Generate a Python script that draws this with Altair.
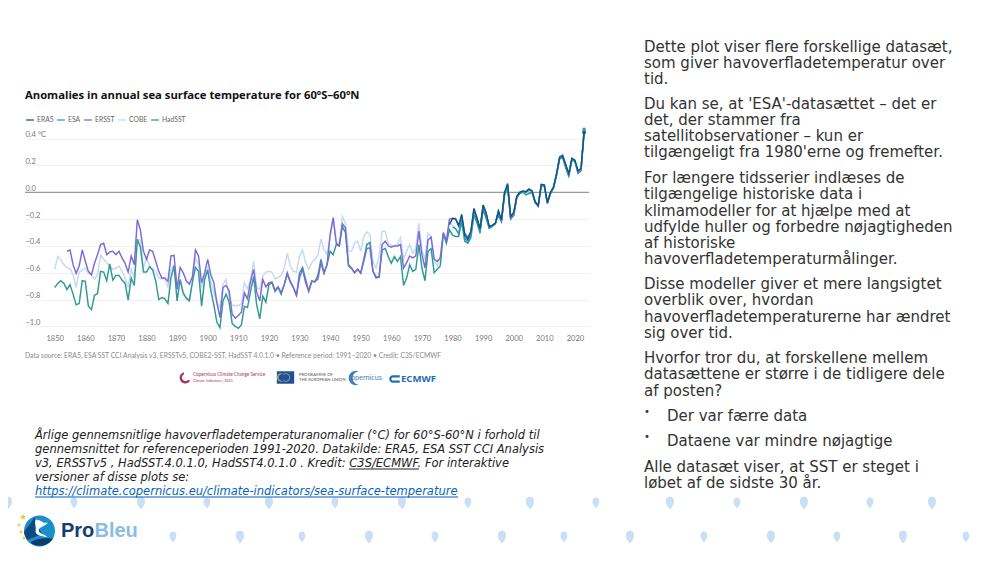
import altair as alt
import pandas as pd

# ---- Series ----
YEARS_ALL = list(range(1850, 2024))

HADSST = [-0.71,-0.68,-0.66,-0.68,-0.725,-0.69,-0.76,-0.84,-0.83,-0.66,
 -0.665,-0.85,-0.875,-0.77,-0.755,-0.59,-0.595,-0.66,-0.535,-0.655,
 -0.62,-0.62,-0.655,-0.68,-0.805,-0.64,-0.695,-0.35,-0.41,-0.595,
 -0.595,-0.555,-0.58,-0.66,-0.80,-0.785,-0.795,-0.83,-0.635,-0.55,
 -0.81,-0.65,-0.75,-0.79,-0.81,-0.67,-0.56,-0.59,-0.85,-0.65,
 -0.58,-0.73,-0.84,-0.97,-1.01,-0.81,-0.76,-0.82,-0.98,-1.00,
 -1.015,-0.99,-0.85,-0.86,-0.74,-0.63,-0.84,-0.945,-0.775,-0.82,
 -0.69,-0.675,-0.74,-0.71,-0.76,-0.69,-0.61,-0.67,-0.71,-0.77,
 -0.60,-0.56,-0.65,-0.74,-0.66,-0.67,-0.62,-0.50,-0.60,-0.54,
 -0.44,-0.465,-0.39,-0.40,-0.255,-0.30,-0.55,-0.57,-0.60,-0.575,
 -0.605,-0.50,-0.39,-0.375,-0.59,-0.64,-0.63,-0.43,-0.42,-0.48,
 -0.53,-0.48,-0.515,-0.48,-0.695,-0.64,-0.54,-0.59,-0.575,-0.39,
 -0.565,-0.66,-0.44,-0.42,-0.60,-0.575,-0.55,-0.305,-0.38,-0.28,
 -0.32,-0.33,-0.33,-0.22,-0.365,-0.38,-0.34,-0.17,-0.23,-0.305,
 -0.13,-0.195,-0.27,-0.255,-0.235,-0.17,-0.22,-0.02,0.04,-0.195,
 -0.17,-0.04,-0.01,0.0,-0.02,-0.01,0.0,-0.08,-0.10,0.05,
 0.05,-0.08,-0.01,0.03,0.13,0.25,0.26,0.19,0.13,0.24,
 0.23,0.16,0.17,0.47]

COBE = [-0.575,-0.48,-0.505,-0.54,-0.56,-0.57,-0.615,-0.71,-0.595,-0.58,
 -0.565,-0.605,-0.615,-0.65,-0.615,-0.47,-0.50,-0.525,-0.55,-0.575,
 -0.565,-0.55,-0.59,-0.64,-0.71,-0.575,-0.64,-0.355,-0.355,-0.565,
 -0.49,-0.55,-0.565,-0.59,-0.64,-0.645,-0.645,-0.705,-0.575,-0.54,
 -0.695,-0.665,-0.77,-0.785,-0.80,-0.675,-0.49,-0.54,-0.71,-0.63,
 -0.565,-0.665,-0.75,-0.825,-0.86,-0.69,-0.65,-0.775,-0.845,-0.845,
 -0.845,-0.83,-0.675,-0.72,-0.65,-0.515,-0.71,-0.725,-0.625,-0.595,
 -0.59,-0.595,-0.645,-0.635,-0.62,-0.565,-0.455,-0.55,-0.59,-0.595,
 -0.475,-0.43,-0.525,-0.575,-0.525,-0.50,-0.47,-0.35,-0.43,-0.465,
 -0.34,-0.185,-0.365,-0.39,-0.18,-0.23,-0.44,-0.44,-0.38,-0.365,
 -0.44,-0.33,-0.295,-0.315,-0.515,-0.565,-0.475,-0.29,-0.29,-0.38,
 -0.395,-0.40,-0.39,-0.34,-0.50,-0.44,-0.39,-0.455,-0.415,-0.23,
 -0.43,-0.50,-0.305,-0.33,-0.50,-0.55,-0.475,-0.315,-0.355,-0.23,
 -0.245,-0.27,-0.305,-0.195,-0.33,-0.355,-0.31,-0.13,-0.21,-0.28,
 -0.105,-0.165,-0.265,-0.25,-0.235,-0.15,-0.21,-0.01,0.055,-0.185,
 -0.16,-0.035,-0.005,0.005,-0.01,0.01,0.005,-0.075,-0.105,0.055,
 0.05,-0.08,-0.01,0.035,0.135,0.255,0.265,0.195,0.135,0.25,
 0.235,0.155,0.175,0.45]

ERSST_YEARS = list(range(1854, 2024))
ERSST = [-0.44,-0.43,-0.54,-0.605,-0.55,-0.43,
 -0.515,-0.59,-0.615,-0.53,-0.465,-0.39,-0.38,-0.465,-0.445,-0.44,
 -0.465,-0.44,-0.49,-0.53,-0.595,-0.475,-0.54,-0.205,-0.28,-0.44,
 -0.50,-0.43,-0.44,-0.515,-0.59,-0.64,-0.64,-0.665,-0.475,-0.47,
 -0.725,-0.56,-0.60,-0.66,-0.685,-0.63,-0.43,-0.475,-0.675,-0.60,
 -0.50,-0.615,-0.675,-0.825,-0.935,-0.71,-0.695,-0.735,-0.91,-0.94,
 -0.92,-0.895,-0.75,-0.795,-0.665,-0.575,-0.745,-0.81,-0.65,-0.705,
 -0.675,-0.67,-0.73,-0.705,-0.75,-0.69,-0.60,-0.665,-0.71,-0.77,
 -0.64,-0.575,-0.675,-0.735,-0.665,-0.665,-0.65,-0.525,-0.605,-0.54,
 -0.315,-0.19,-0.38,-0.40,-0.235,-0.265,-0.54,-0.565,-0.60,-0.575,
 -0.60,-0.515,-0.42,-0.415,-0.59,-0.63,-0.635,-0.39,-0.365,-0.40,
 -0.41,-0.40,-0.40,-0.39,-0.565,-0.525,-0.475,-0.49,-0.475,-0.29,
 -0.465,-0.565,-0.355,-0.335,-0.50,-0.515,-0.49,-0.30,-0.365,-0.20,
 -0.195,-0.195,-0.245,-0.18,-0.305,-0.335,-0.30,-0.125,-0.19,-0.27,
 -0.095,-0.16,-0.26,-0.25,-0.235,-0.14,-0.215,-0.01,0.055,-0.20,
 -0.17,-0.04,0.0,0.01,0.0,0.02,0.01,-0.07,-0.105,0.05,
 0.045,-0.085,-0.01,0.035,0.14,0.265,0.28,0.205,0.125,0.25,
 0.235,0.14,0.16,0.455]

ERA5_YEARS = list(range(1979, 2024))
ERA5 = [-0.24,-0.195,-0.20,-0.25,-0.165,-0.32,-0.35,-0.29,-0.12,-0.195,-0.27,
 -0.095,-0.155,-0.255,-0.245,-0.23,-0.14,-0.205,0.0,0.065,-0.18,
 -0.15,-0.03,0.0,0.01,0.005,0.025,0.01,-0.07,-0.10,0.06,
 0.055,-0.075,0.0,0.04,0.14,0.26,0.27,0.205,0.14,0.255,
 0.24,0.16,0.18,0.445]

ESA_YEARS = list(range(1980, 2024))
ESA = [-0.26,-0.27,-0.31,-0.19,-0.345,-0.365,-0.32,-0.14,-0.20,-0.285,
 -0.105,-0.175,-0.265,-0.25,-0.23,-0.15,-0.21,-0.01,0.05,-0.19,
 -0.155,-0.03,0.0,0.005,0.0,0.02,0.005,-0.075,-0.10,0.055,
 0.05,-0.08,-0.005,0.035,0.13,0.25,0.26,0.18,0.12,0.245,
 0.23,0.15,0.17,0.45]

LEGEND_ORDER = ["ERA5", "ESA", "ERSST", "COBE", "HadSST"]
COLORS = ["#14557f", "#2a9cc4", "#7a6bd6", "#c4daf0", "#2f9a94"]

X_TICKS = list(range(1850, 2021, 10))
Y_TICKS = [0.4, 0.2, 0.0, -0.2, -0.4, -0.6, -0.8, -1.0]

TITLE = "Anomalies in annual sea surface temperature for 60ºS–60ºN"
SOURCE = ("Data source: ERA5, ESA SST CCI Analysis v3, ERSSTv5, COBE2-SST, HadSST 4.0.1.0 • "
          "Reference period: 1991–2020 • Credit: C3S/ECMWF")

RIGHT_TEXT = [
 (46, "Dette plot viser flere forskellige datasæt,"), (62, "som giver havoverfladetemperatur over"), (78, "tid."),
 (103, "Du kan se, at 'ESA'-datasættet – det er"), (119, "det, der stammer fra"), (135, "satellitobservationer – kun er"),
 (151, "tilgængeligt fra 1980'erne og fremefter."),
 (177, "For længere tidsserier indlæses de"), (193, "tilgængelige historiske data i"), (210, "klimamodeller for at hjælpe med at"),
 (226, "udfylde huller og forbedre nøjagtigheden"), (242, "af historiske"), (258, "havoverfladetemperaturmålinger."),
 (283, "Disse modeller giver et mere langsigtet"), (299, "overblik over, hvordan"), (316, "havoverfladetemperaturerne har ændret"),
 (332, "sig over tid."),
 (357, "Hvorfor tror du, at forskellene mellem"), (373, "datasættene er større i de tidligere dele"), (390, "af posten?"),
 (466, "Alle datasæt viser, at SST er steget i"), (482, "løbet af de sidste 30 år."),
]
BULLET_TEXT = [(415, "Der var færre data"), (440, "Dataene var mindre nøjagtige")]
BULLET_MARKS = [(411, "•"), (436, "•")]

CAPTION = [
 (435, "Årlige gennemsnitlige havoverfladetemperaturanomalier (°C) for 60°S-60°N i forhold til"),
 (449, "gennemsnittet for referenceperioden 1991-2020. Datakilde: ERA5, ESA SST CCI Analysis"),
 (463, "v3, ERSSTv5 , HadSST.4.0.1.0, HadSST4.0.1.0 . Kredit: C3S/ECMWF. For interaktive"),
 (477, "versioner af disse plots se:"),
]
LINK = "https://climate.copernicus.eu/climate-indicators/sea-surface-temperature"

DROPS_TOP = [8, 74, 141, 207, 269, 335, 402, 468, 530, 596, 670, 737, 804, 870, 932]
DROPS_BOTTOM = [173, 240, 302, 369, 435, 502, 564, 630, 704, 771, 837, 903, 966]

# ---- Frame: plot area occupies page pixels x 25..589, y 125..332 ----
LEFT, TOP, W, H = 25, 125, 564, 207
x_scale = alt.Scale(domain=[1840.29, 2024.6], nice=False, zero=False)
y_scale = alt.Scale(domain=[-1.0425, 0.5022], nice=False, zero=False)


def pix(rows):
    return pd.DataFrame([{**r, "px": r["px"] - LEFT, "py": r["py"] - TOP} for r in rows])


X_PIX = alt.X("px:Q", scale=None, axis=None)
Y_PIX = alt.Y("py:Q", scale=None, axis=None)


def texts(rows, **mark):
    rows = [{**r, "py": r["py"] + 1} for r in rows]
    return (alt.Chart(pix(rows)).mark_text(align=mark.pop("align", "left"), baseline="middle", **mark)
            .encode(x=X_PIX, y=Y_PIX, text="t:N"))


def hline(x0, x1, y, color, w=1.0):
    d = pd.DataFrame([{"px": x0 - LEFT, "px2": x1 - LEFT, "py": y - TOP}])
    return alt.Chart(d).mark_rule(color=color, strokeWidth=w).encode(x=X_PIX, x2="px2:Q", y=Y_PIX)


def shape(rows, path, color, size, opacity=1.0):
    return (alt.Chart(pix(rows)).mark_point(shape=path, filled=True, color=color, size=size,
                                            opacity=opacity, strokeWidth=0)
            .encode(x=X_PIX, y=Y_PIX))


# ---- Data chart ----
rows = []
for name, yrs, vals in [("COBE", YEARS_ALL, COBE), ("HadSST", YEARS_ALL, HADSST),
                        ("ERSST", ERSST_YEARS, ERSST), ("ESA", ESA_YEARS, ESA), ("ERA5", ERA5_YEARS, ERA5)]:
    rows += [{"year": y, "v": v, "series": name} for y, v in zip(yrs, vals)]
df = pd.DataFrame(rows)

zero_line = (
    alt.Chart(pd.DataFrame([{"a": 1840.29, "b": 2024.6, "v": 0.0}]))
    .mark_rule(color="#999999", strokeWidth=1.3)
    .encode(
        x=alt.X("a:Q", scale=x_scale, axis=alt.Axis(
            values=X_TICKS, format="d", title=None, domain=False, ticks=False, grid=False,
            labelFont="Lato", labelFontSize=7.5, labelColor="#777777", labelPadding=2)),
        x2="b:Q",
        y=alt.Y("v:Q", scale=y_scale, axis=alt.Axis(
            values=Y_TICKS, title=None, domain=False, ticks=False, grid=True,
            gridColor="#ededed", gridWidth=0.8,
            labelAlign="left", labelBaseline="bottom", labelPadding=0, labelOffset=0,
            labelFont="Lato", labelFontSize=7.5, labelColor="#777777",
            labelExpr="datum.value == 0.4 ? '0.4 °C' : replace(format(datum.value, '.1f'), '-', '−')")),
    )
)

color_enc = alt.Color("series:N", scale=alt.Scale(domain=LEGEND_ORDER, range=COLORS),
                      legend=alt.Legend(orient="none", legendX=0, legendY=-10, direction="horizontal",
                                        title=None, symbolType="stroke", symbolSize=60, symbolStrokeWidth=1.3,
                                        labelFont="Lato", labelFontSize=6.8, labelColor="#666666",
                                        gridAlign="none", columnPadding=0, labelOffset=2, padding=0, offset=0))
lines = (alt.Chart(df).mark_line(strokeWidth=1.45, interpolate="linear")
         .encode(x=alt.X("year:Q", scale=x_scale, axis=None),
                 y=alt.Y("v:Q", scale=y_scale, axis=None),
                 color=color_enc, detail="series:N"))
last = (alt.Chart(df[df.year == 2023]).mark_point(filled=True, size=12, opacity=1, strokeWidth=0)
        .encode(x=alt.X("year:Q", scale=x_scale, axis=None),
                y=alt.Y("v:Q", scale=y_scale, axis=None),
                color=alt.Color("series:N", scale=alt.Scale(domain=LEGEND_ORDER, range=COLORS), legend=None)))

# ---- Slide furniture ----
DROP = ("M0,-1 C0.55,-1 0.72,-0.35 0.55,0.15 C0.4,0.55 0.15,0.85 -0.1,1 "
        "C-0.02,0.7 -0.55,0.45 -0.62,-0.05 C-0.7,-0.55 -0.45,-1 0,-1Z")
STAR = "M0,-1 L0.3,-0.3 L1,-0.3 L0.45,0.15 L0.62,0.9 L0,0.5 L-0.62,0.9 L-0.45,0.15 L-1,-0.3 L-0.3,-0.3Z"
drop_rows_big = ([{"px": x, "py": 503} for x in DROPS_TOP[0::2]] +
                 [{"px": x, "py": 537} for x in DROPS_BOTTOM[1::2]])
drop_rows_small = ([{"px": x, "py": 503} for x in DROPS_TOP[1::2]] +
                   [{"px": x, "py": 537} for x in DROPS_BOTTOM[0::2]])

layers = [
    shape(drop_rows_big, DROP, "#c9dff5", 170),
    shape(drop_rows_small, DROP, "#c9dff5", 120),
    zero_line, lines, last,
    texts([{"px": 25, "py": 95, "t": TITLE}], font="Open Sans", fontSize=11.25, fontWeight="bold", color="#111111"),
    texts([{"px": 25, "py": 355, "t": SOURCE}], font="Lato", fontSize=6.8, color="#8a8a8a"),
    # sponsor logos
    shape([{"px": 185, "py": 378}], "M-0.2,-1 A1,1 0 1 0 0.9,0.5 L0.55,0.3 A0.6,0.6 0 1 1 -0.2,-0.6Z", "#a33a5a", 130),
    texts([{"px": 193, "py": 374, "t": "Copernicus Climate Change Service"}], font="Lato", fontSize=4.65, color="#a03a5c"),
    texts([{"px": 193, "py": 380, "t": "Climate Indicators | 2023"}], font="Lato", fontSize=3.6, color="#a03a5c"),
    shape([{"px": 285.5, "py": 377.5}], "M-1,-0.72 H1 V0.72 H-1Z", "#1f4f9f", 300),
    shape([{"px": 285.5, "py": 377.5}], "M-0.28,-0.5 A0.6,0.6 0 1 1 -0.28,0.5 A0.6,0.6 0 1 1 -0.28,-0.5 M-0.22,-0.4 A0.48,0.48 0 1 0 -0.22,0.4 A0.48,0.48 0 1 0 -0.22,-0.4Z", "#c8b84a", 200, 0.8),
    texts([{"px": 299, "py": 374, "t": "PROGRAMME OF"}], font="Lato", fontSize=4.2, color="#555555"),
    texts([{"px": 299, "py": 379, "t": "THE EUROPEAN UNION"}], font="Lato", fontSize=4.2, color="#555555"),
    shape([{"px": 353, "py": 378}], "M0.9,-1 A1.1,1.1 0 1 0 0.9,1 A0.95,1.0 0 1 1 0.9,-1Z", "#3f7fbf", 170),
    texts([{"px": 351, "py": 377, "t": "opernicus"}], font="Lato", fontSize=7.2, color="#3f7fbf"),
    shape([{"px": 394.5, "py": 379}], "M1,-0.7 H-0.3 A0.7,0.7 0 0 0 -0.3,0.7 H1 V0.3 H-0.3 A0.3,0.3 0 0 1 -0.3,-0.3 H1Z", "#1f6fb5", 110),
    texts([{"px": 401, "py": 378, "t": "ECMWF"}], font="Open Sans", fontSize=9.6, fontWeight="bold", color="#1f6fb5"),
    # right-hand text
    texts([{"px": 644, "py": y, "t": t} for y, t in RIGHT_TEXT], font="DejaVu Sans", fontSize=15, color="#333333"),
    texts([{"px": 667, "py": y, "t": t} for y, t in BULLET_TEXT], font="DejaVu Sans", fontSize=15, color="#333333"),
    texts([{"px": 644, "py": y, "t": t} for y, t in BULLET_MARKS], font="DejaVu Sans", fontSize=10, color="#333333"),
    # caption
    texts([{"px": 35, "py": y, "t": t} for y, t in CAPTION], font="DejaVu Sans", fontSize=11.5, fontStyle="italic", color="#222222"),
    texts([{"px": 35, "py": 491, "t": LINK}], font="DejaVu Sans", fontSize=11.5, fontStyle="italic", color="#0563c1"),
    hline(35, 458, 497, "#0563c1"),
    hline(349, 419, 469, "#222222"),
    # ProBleu logo
    shape([{"px": 39.5, "py": 531}], "M0,-1 A1,1 0 1 1 0,1 A1,1 0 1 1 0,-1Z", "#1a8fca", 960),
    shape([{"px": 39.5, "py": 531}], "M-1,0.05 C-0.75,-0.3 -0.45,-0.6 -0.35,-0.9 C-0.1,-0.5 -0.1,-0.1 0.2,0.2 C-0.2,0.35 -0.7,0.5 -0.75,0.6 A1,1 0 0 1 -1,0.05Z", "#0c4a80", 960),
    shape([{"px": 39.5, "py": 531}], "M-0.6,0.75 C-0.2,0.45 0.3,0.45 0.85,0.5 A1,1 0 0 1 -0.6,0.75Z", "#0b3c6e", 960),
    shape([{"px": 39.5, "py": 531}], "M-0.25,-0.75 C0.1,-0.75 0.2,-0.45 0.55,-0.55 C0.25,-0.2 -0.05,-0.3 -0.05,0 C0.05,0.2 0.35,0.2 0.5,0.4 C0.1,0.3 -0.3,0.3 -0.25,-0.05 C-0.2,-0.35 -0.35,-0.5 -0.25,-0.75Z", "#ffffff", 960),
    shape([{"px": 23, "py": 517}], STAR, "#f3c530", 40),
    shape([{"px": 19, "py": 525}, {"px": 21, "py": 532}, {"px": 24, "py": 538}], STAR, "#f3c530", 16),
    texts([{"px": 61, "py": 530, "t": "Pro"}], font="Liberation Sans", fontSize=20, fontWeight="bold", color="#123f6d"),
    texts([{"px": 94.5, "py": 530, "t": "Bleu"}], font="Liberation Sans", fontSize=20, fontWeight="bold", color="#8dbbe6"),
]

chart = (
    alt.layer(*layers)
    .resolve_scale(x="independent", y="independent", color="shared")
    .properties(
        width=W, height=H, background="#ffffff",
        autosize=alt.AutoSizeParams(type="none"),
        padding={"left": LEFT - 8, "top": TOP - 8, "right": 984 - (LEFT - 8) - W, "bottom": 540 - (TOP - 8) - H},
    )
    .configure_view(stroke=None)
)

chart.save("out.html", embed_options={"renderer": "svg", "actions": False})
